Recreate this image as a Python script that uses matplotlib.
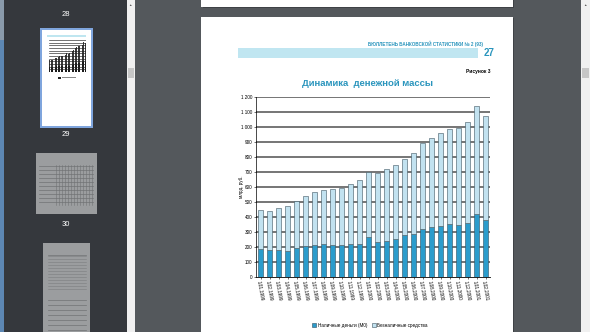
import matplotlib
matplotlib.use('Agg')
import matplotlib.pyplot as plt
from matplotlib.patches import Rectangle
import numpy as np

plt.rcParams['font.family'] = ['Liberation Sans Narrow', 'Liberation Sans', 'DejaVu Sans']

# Денежная масса, млрд руб.: М0 и всего М2 на начало месяца
dates = ['1.01.1999', '1.02.1999', '1.03.1999', '1.04.1999', '1.05.1999', '1.06.1999',
         '1.07.1999', '1.08.1999', '1.09.1999', '1.10.1999', '1.11.1999', '1.12.1999',
         '1.01.2000', '1.02.2000', '1.03.2000', '1.04.2000', '1.05.2000', '1.06.2000',
         '1.07.2000', '1.08.2000', '1.09.2000', '1.10.2000', '1.11.2000', '1.12.2000',
         '1.01.2001', '1.02.2001']
m0 = [186, 178, 180, 173, 193, 207, 216, 220, 213, 213, 222, 220,
      269, 233, 242, 251, 280, 289, 322, 336, 342, 351, 349, 358, 420, 380]
m2 = [446, 441, 463, 473, 507, 540, 567, 583, 587, 593, 622, 646,
      700, 693, 722, 747, 784, 829, 891, 927, 958, 989, 996, 1031, 1140, 1076]
noncash = [t - c for t, c in zip(m2, m0)]
yticks = [0, 100, 200, 300, 400, 500, 600, 700, 800, 900, 1000, 1100, 1200]
ytick_labels = ['0', '100', '200', '300', '400', '500', '600', '700', '800', '900',
                '1 000', '1 100', '1 200']

C_M0 = '#2b9ccc'
C_NC = '#c2e2f0'
C_TEAL = '#2a95bd'

W, H = 590, 332
fig = plt.figure(figsize=(W / 100, H / 100), dpi=100)

# окно просмотрщика: фон, боковая панель, миниатюры
bg = fig.add_axes([0, 0, 1, 1])
bg.set_xlim(0, W)
bg.set_ylim(H, 0)
bg.axis('off')

def box(x, y, w, h, fc, ec='none', lw=0, z=1):
    bg.add_patch(Rectangle((x, y), w, h, facecolor=fc, edgecolor=ec, linewidth=lw, zorder=z))

box(0, 0, W, H, '#54585c')
box(0, 0, 127, H, '#35383d')
box(0, 0, 4, H, '#5d87b3')
box(0, 0, 4, 40, '#8a9aab')
box(127, 0, 8, H, '#f0f0f0')
box(128, 68, 6, 10, '#c6c6c6')
box(581, 0, 9, H, '#f0f0f0')
box(582, 68, 7, 10, '#c6c6c6')
bg.text(130.5, 5, '▲', fontsize=2.5, color='#555555', ha='center', va='center')
bg.text(585.5, 5, '▲', fontsize=2.5, color='#555555', ha='center', va='center')

for lbl, yy in [('28', 14), ('29', 135), ('30', 224)]:
    bg.text(66, yy, lbl, color='white', fontsize=5.5, ha='center', va='center')

# выбранная миниатюра стр. 28
box(40, 28, 53, 100, '#7fa5dd', z=2)
box(42, 30, 49, 96, 'white', z=3)
box(47, 35, 39, 2, '#bfe6f0', z=4)
box(58, 77, 3, 1.5, '#222222', z=4)
box(62, 77, 14, 1.2, '#888888', z=4)
# миниатюры стр. 29 и 30 (таблицы)
box(36, 153, 61, 61, '#9b9d9f')
for yy in range(166, 206, 4):
    bg.plot([39, 93], [yy, yy], color='#707274', lw=0.5)
for xx in range(56, 94, 3):
    bg.plot([xx, xx], [165, 205], color='#707274', lw=0.4)
box(43, 243, 47, 95, '#9b9d9f')
bg.plot([48, 86], [255, 255], color='#707274', lw=0.5)
for yy in range(256, 290, 3):
    bg.plot([48, 86], [yy, yy], color='#7c7e80', lw=0.4)
for yy in range(300, 332, 5):
    bg.plot([48, 86], [yy, yy], color='#707274', lw=0.5)

# страницы документа
box(203, 0, 311, 8, '#3f4246')
box(201, 0, 312, 7, 'white')
box(203, 18, 311, H, '#3f4246')
box(201, 17, 312, H, 'white')

bg.text(483, 44, 'БЮЛЛЕТЕНЬ БАНКОВСКОЙ СТАТИСТИКИ № 2 (93)', fontsize=3.3,
        color=C_TEAL, ha='right', va='center', fontweight='bold')
box(238, 48, 240, 10, '#c0e6f1')
bg.text(484, 53, '27', fontsize=7, color=C_TEAL, ha='left', va='center', fontweight='bold')
bg.text(491, 72, 'Рисунок 3', fontsize=3.5, color='black', ha='right', va='center',
        fontweight='bold')
bg.text(368, 84, 'Динамика  денежной массы', fontsize=6.8, color=C_TEAL,
        ha='center', va='center', fontweight='bold')
bg.text(241, 187, 'млрд. руб.', fontsize=3.3, rotation=90, ha='center', va='center')

# мини-график на миниатюре
mini = fig.add_axes([49 / W, 1 - 72 / H, 37 / W, 32 / H])
mini.bar(range(len(m0)), m0, 0.6, color='#1a1a1a')
mini.bar(range(len(m0)), noncash, 0.6, bottom=m0, color='#3a3a3a')
for v in yticks[1:]:
    mini.axhline(v, color='#222222', lw=0.45)
mini.set_xlim(-0.5, len(m0) - 0.5)
mini.set_ylim(0, 1200)
mini.axis('off')

# основной график
ax = fig.add_axes([256 / W, 1 - 277 / H, 234 / W, 180 / H])
x = np.arange(len(dates))
ax.bar(x, m0, 0.55, color=C_M0, edgecolor='#2f4f5f', linewidth=0.4,
       label='Наличные деньги (М0)', zorder=3)
ax.bar(x, noncash, 0.55, bottom=m0, color=C_NC, edgecolor='#3d5560', linewidth=0.4,
       label='Безналичные средства', zorder=3)
for v in yticks[1:]:
    ax.axhline(v, color='#5e5e5e', lw=1.2, zorder=1)
ax.set_xlim(-0.5, len(dates) - 0.5)
ax.set_ylim(0, 1200)
ax.set_yticks(yticks)
ax.set_yticklabels(ytick_labels, fontsize=3.3)
ax.set_xticks(x)
ax.set_xticklabels(dates, fontsize=3.3, rotation=-80, ha='left',
                   rotation_mode='anchor')
ax.tick_params(axis='both', length=1.5, width=0.4, pad=1.2)
for s in ['top', 'right']:
    ax.spines[s].set_visible(False)
ax.spines['left'].set_linewidth(0.5)
ax.spines['bottom'].set_linewidth(0.6)
ax.legend(loc='center', bbox_to_anchor=(370 / W, 1 - 325 / H),
          bbox_transform=fig.transFigure, ncol=2, fontsize=3.3, frameon=False,
          handlelength=0.9, handleheight=0.9, handletextpad=0.3, columnspacing=1.0)

fig.savefig('out.png', dpi=100)
